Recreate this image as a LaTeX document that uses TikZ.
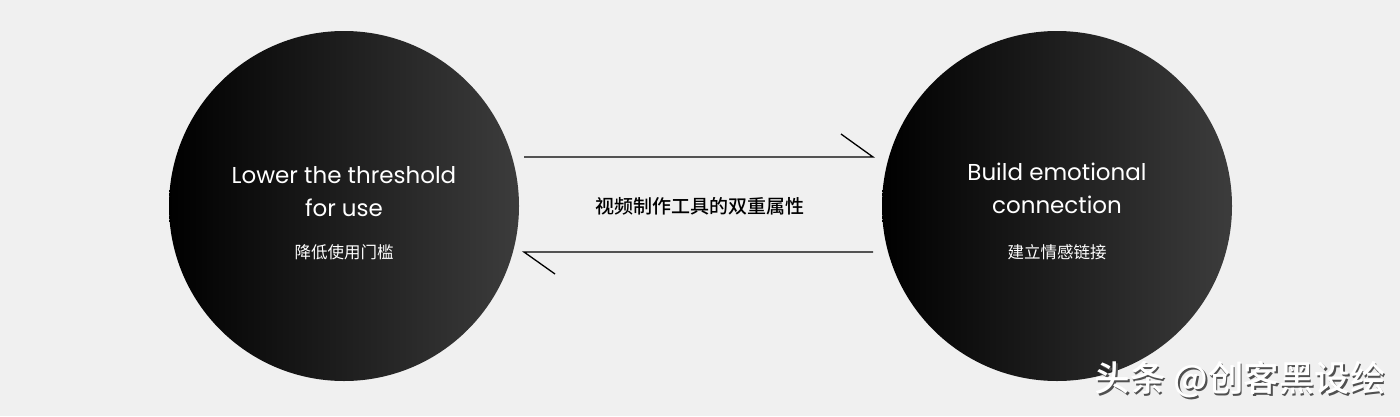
\documentclass[tikz,border=0pt]{standalone}
\usepackage{fontspec}
\setmainfont{Poppins}
\newfontfamily\cjk{Noto Sans CJK SC}
\newfontfamily\cjkb{Noto Sans CJK SC Medium}
\begin{document}
\begin{tikzpicture}[x=1pt,y=-1pt,
  ball/.style={circle,minimum size=350pt,inner sep=0pt,shading=axis,left color=black,right color={rgb,255:red,60;green,60;blue,60},shading angle=90},
  entitle/.style={text=white,font=\fontsize{23}{33}\selectfont,align=center},
  cntitle/.style={text=white,font=\cjk\fontsize{16.5}{18}\selectfont},
  link/.style={line width=1.3pt,black}]
\fill[fill={rgb,255:red,240;green,240;blue,240}] (0,0) rectangle (1400,416);
\useasboundingbox (0,0) rectangle (1400,416);
\node[ball] (L) at (344,206) {};
\node[ball] (R) at (1057,206) {};
\node[entitle] (Lt) at (344,192) {Lower the threshold\\for use};
\node[cntitle] (Lc) at (344,252) {降低使用门槛};
\node[entitle] (Rt) at (1057,188) {Build emotional\\connection};
\node[cntitle] (Rc) at (1057,252) {建立情感链接};
\node[font=\cjkb\fontsize{19}{22}\selectfont] (M) at (700,206) {视频制作工具的双重属性};
\coordinate (a1) at (524,157);
\coordinate (a2) at (873,157);
\coordinate (a3) at (841,134);
\coordinate (b1) at (873,252);
\coordinate (b2) at (524,252);
\coordinate (b3) at (555,274);
\draw[link] (a1) -- (a2) -- (a3);
\draw[link] (b1) -- (b2) -- (b3);
\node[text={rgb,255:red,80;green,80;blue,80},font=\cjkb\fontsize{35.5}{38}\selectfont] at (1241.5,381.5) {头条 @创客黑设绘};
\node[text=white,font=\cjkb\fontsize{35.5}{38}\selectfont] (W) at (1240,380) {头条 @创客黑设绘};
\end{tikzpicture}
\end{document}
